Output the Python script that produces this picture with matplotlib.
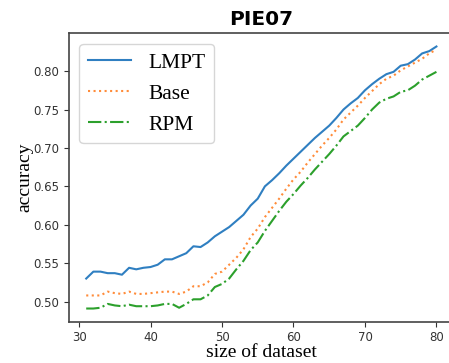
import numpy as np
import matplotlib
matplotlib.use('Agg')
import matplotlib.pyplot as plt

# tamaño del conjunto de datos
sizes = np.arange(31, 81)

acc_lmpt = [0.530, 0.539, 0.539, 0.537, 0.537, 0.535, 0.544, 0.542, 0.544, 0.545,
            0.548, 0.555, 0.555, 0.559, 0.563, 0.572, 0.571, 0.577, 0.585, 0.591,
            0.597, 0.605, 0.613, 0.625, 0.634, 0.650, 0.658, 0.667, 0.677, 0.686,
            0.695, 0.704, 0.713, 0.721, 0.729, 0.739, 0.750, 0.758, 0.765, 0.775,
            0.783, 0.790, 0.796, 0.799, 0.807, 0.809, 0.815, 0.823, 0.826, 0.832]

acc_base = [0.508, 0.508, 0.508, 0.513, 0.511, 0.510, 0.513, 0.510, 0.510, 0.511,
            0.512, 0.513, 0.513, 0.510, 0.513, 0.520, 0.520, 0.525, 0.536, 0.539,
            0.548, 0.557, 0.568, 0.584, 0.595, 0.610, 0.622, 0.634, 0.647, 0.659,
            0.669, 0.681, 0.692, 0.703, 0.713, 0.724, 0.737, 0.746, 0.755, 0.765,
            0.774, 0.783, 0.790, 0.794, 0.801, 0.806, 0.811, 0.816, 0.823, 0.828]

acc_rpm = [0.491, 0.491, 0.492, 0.497, 0.495, 0.494, 0.496, 0.494, 0.494, 0.494,
           0.495, 0.497, 0.497, 0.492, 0.497, 0.503, 0.503, 0.508, 0.519, 0.523,
           0.530, 0.542, 0.553, 0.567, 0.577, 0.592, 0.605, 0.618, 0.630, 0.640,
           0.651, 0.661, 0.672, 0.682, 0.692, 0.703, 0.715, 0.722, 0.729, 0.739,
           0.750, 0.759, 0.764, 0.767, 0.773, 0.775, 0.781, 0.789, 0.794, 0.799]

fig = plt.figure(figsize=(4.49, 3.63), dpi=100)
# el eje derecho queda recortado como en la imagen original
ax = fig.add_axes([0.153, 0.114, 0.858, 0.794])

ax.plot(sizes, acc_lmpt, color='#2f7fc1', linestyle='-', linewidth=1.5, label='LMPT')
ax.plot(sizes, acc_base, color='#ff8c3a', linestyle=':', linewidth=1.5, label='Base')
ax.plot(sizes, acc_rpm, color='#2ca02c', linestyle='-.', linewidth=1.5, label='RPM')

ax.set_xticks([30, 40, 50, 60, 70, 80])
ax.set_yticks([0.50, 0.55, 0.60, 0.65, 0.70, 0.75, 0.80])
ax.tick_params(labelsize=8.5, labelcolor='#333333', color='#333333')
for s in ax.spines.values():
    s.set_color('#444444')
    s.set_linewidth(1.2)

ax.set_title('PIE07', fontsize=14.5, fontweight='bold', pad=6)
ax.set_xlabel('size of dataset', family='Liberation Serif', fontsize=14, labelpad=0)
ax.set_ylabel('accuracy', family='Liberation Serif', fontsize=14, labelpad=0)

ax.legend(loc='upper left', prop={'family': 'Liberation Serif', 'size': 15.5},
          borderaxespad=0.5)

fig.savefig('out.png', dpi=100)
